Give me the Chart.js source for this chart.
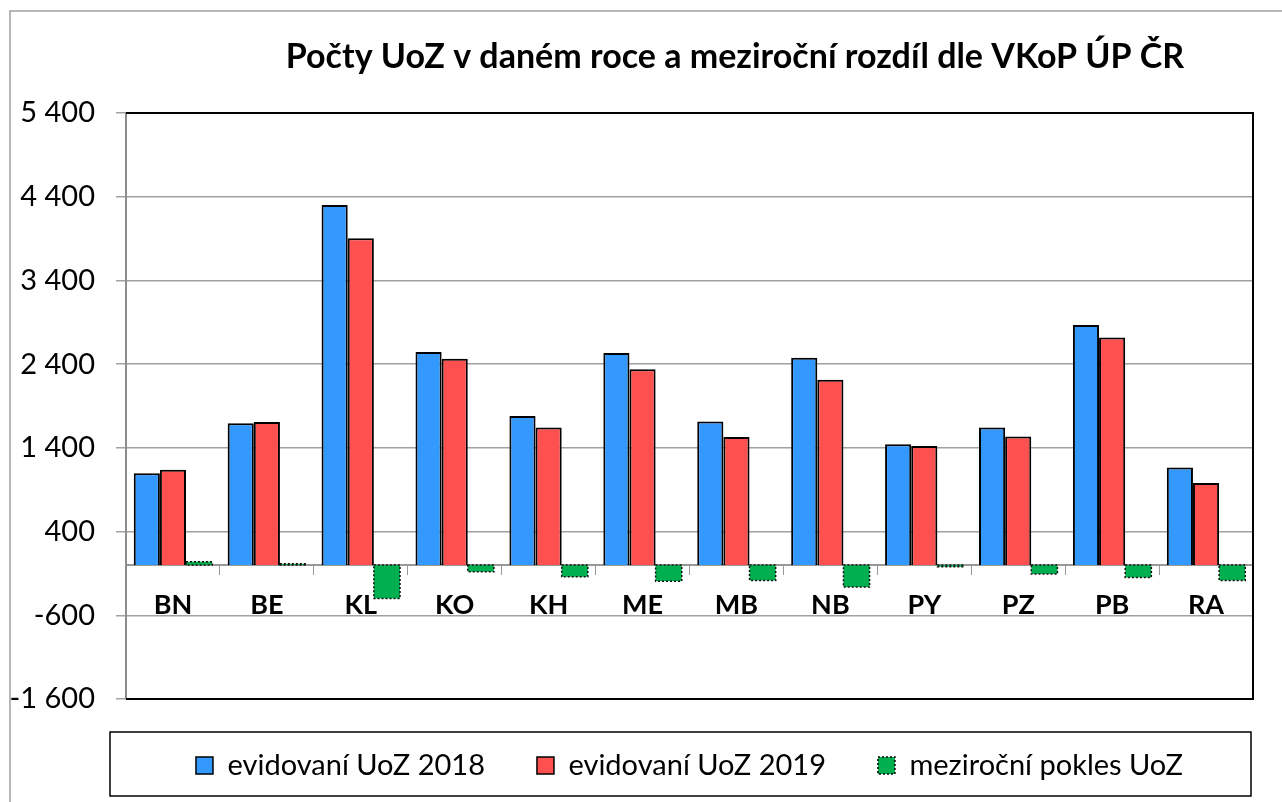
<!DOCTYPE html>
<html lang="cs">
<head>
  <meta charset="UTF-8" />
  <title>Počty UoZ dle VKoP ÚP ČR</title>
  <script src="https://cdn.jsdelivr.net/npm/chart.js"></script>
  <style>
    html, body { margin: 0; padding: 0; background: #fff; }
    canvas { display: block; }
  </style>
</head>
<body>
  <canvas id="uozChart" width="1282" height="802"></canvas>

  <script>
    // data
    const categories = ['BN', 'BE', 'KL', 'KO', 'KH', 'ME', 'MB', 'NB', 'PY', 'PZ', 'PB', 'RA'];
    const uoz2018 = [1097, 1695, 4302, 2544, 1782, 2532, 1714, 2476, 1443, 1642, 2867, 1164];
    const uoz2019 = [1137, 1710, 3903, 2464, 1642, 2340, 1531, 2213, 1423, 1535, 2719, 981];
    const rozdil = [40, 15, -399, -80, -140, -192, -183, -263, -20, -107, -148, -183];
    const seriesNames = ['evidovaní UoZ 2018', 'evidovaní UoZ 2019', 'meziroční pokles UoZ'];
    const yMin = -1600, yMax = 5400, yStep = 1000;
    const chartTitle = 'Počty UoZ v daném roce a meziroční rozdíl dle VKoP ÚP ČR';

    const FONT = 'Lato, "Open Sans", sans-serif';

    function fmt(n) {
      const s = Math.abs(n).toString().replace(/\B(?=(\d{3})+(?!\d))/g, ' ');
      return (n < 0 ? '-' : '') + s;
    }

    // page frame, plot frame, title, dotted outline of the green bars, legend box
    const decor = {
      id: 'decor',
      beforeDraw(chart) {
        const ctx = chart.ctx;
        ctx.save();
        ctx.fillStyle = '#fff';
        ctx.fillRect(0, 0, chart.width, chart.height);
        ctx.strokeStyle = '#a0a0a0';
        ctx.lineWidth = 1.5;
        ctx.beginPath();
        ctx.moveTo(10, chart.height);
        ctx.lineTo(10, 11);
        ctx.lineTo(chart.width, 11);
        ctx.stroke();
        ctx.restore();
      },
      afterDatasetsDraw(chart) {
        const ctx = chart.ctx;
        const meta = chart.getDatasetMeta(2);
        ctx.save();
        ctx.strokeStyle = '#111';
        ctx.lineWidth = 1.5;
        ctx.setLineDash([2, 2]);
        meta.data.forEach(el => {
          const top = Math.min(el.y, el.base);
          const h = Math.abs(el.base - el.y);
          ctx.strokeRect(el.x - el.width / 2, top, el.width, h);
        });
        ctx.restore();
      },
      afterDraw(chart) {
        const ctx = chart.ctx;
        const a = chart.chartArea;
        ctx.save();
        // plot frame top / right / bottom
        ctx.strokeStyle = '#000';
        ctx.lineWidth = 2;
        ctx.beginPath();
        ctx.moveTo(a.left, a.top);
        ctx.lineTo(a.right, a.top);
        ctx.lineTo(a.right, a.bottom);
        ctx.lineTo(a.left, a.bottom);
        ctx.stroke();

        // title
        ctx.fillStyle = '#000';
        ctx.font = 'bold 34px ' + FONT;
        ctx.textAlign = 'center';
        ctx.textBaseline = 'middle';
        ctx.fillText(chartTitle, 735, 57);

        // legend frame
        ctx.strokeStyle = '#000';
        ctx.lineWidth = 1.5;
        ctx.strokeRect(a.left - 16, 732, a.right - a.left + 14, 64);
        ctx.restore();
      }
    };

    const ctx = document.getElementById('uozChart').getContext('2d');

    new Chart(ctx, {
      type: 'bar',
      data: {
        labels: categories,
        datasets: [
          {
            label: seriesNames[0],
            data: uoz2018,
            backgroundColor: '#3399FF',
            borderColor: '#000',
            borderWidth: 2
          },
          {
            label: seriesNames[1],
            data: uoz2019,
            backgroundColor: '#FF5050',
            borderColor: '#000',
            borderWidth: 2
          },
          {
            label: seriesNames[2],
            data: rozdil,
            backgroundColor: '#00B050',
            borderColor: '#111',
            borderWidth: 0
          }
        ]
      },
      options: {
        responsive: false,
        animation: false,
        events: [],
        datasets: {
          bar: { categoryPercentage: 0.835, barPercentage: 1 }
        },
        layout: {
          padding: { top: 113, right: 29, bottom: 12, left: 0 }
        },
        scales: {
          x: {
            position: { y: 0 },
            grid: {
              drawOnChartArea: false,
              tickLength: 9,
              color: '#999',
              offset: true
            },
            border: { color: '#999', width: 2 },
            ticks: {
              color: '#000',
              padding: 15,
              font: { family: FONT, size: 27, weight: 'bold' }
            }
          },
          y: {
            min: yMin,
            max: yMax,
            ticks: {
              stepSize: yStep,
              color: '#000',
              padding: 21,
              font: { family: FONT, size: 29 },
              callback: v => fmt(v)
            },
            grid: {
              color: '#a0a0a0',
              lineWidth: 1.5,
              tickLength: 10
            },
            border: { color: '#8c8c8c', width: 2 },
            afterFit(scale) { scale.width = 126; }
          }
        },
        plugins: {
          title: { display: false },
          tooltip: { enabled: false },
          legend: {
            position: 'bottom',
            fullSize: false,
            labels: {
              color: '#000',
              boxWidth: 17,
              boxHeight: 17,
              padding: 52,
              font: { family: FONT, size: 29 },
              generateLabels(chart) {
                const items = Chart.defaults.plugins.legend.labels.generateLabels(chart);
                items.forEach((it, i) => {
                  it.lineWidth = 1.5;
                  it.strokeStyle = '#000';
                  if (i === 2) it.lineDash = [2, 2];
                });
                return items;
              }
            }
          }
        }
      },
      plugins: [decor]
    });
  </script>
</body>
</html>
